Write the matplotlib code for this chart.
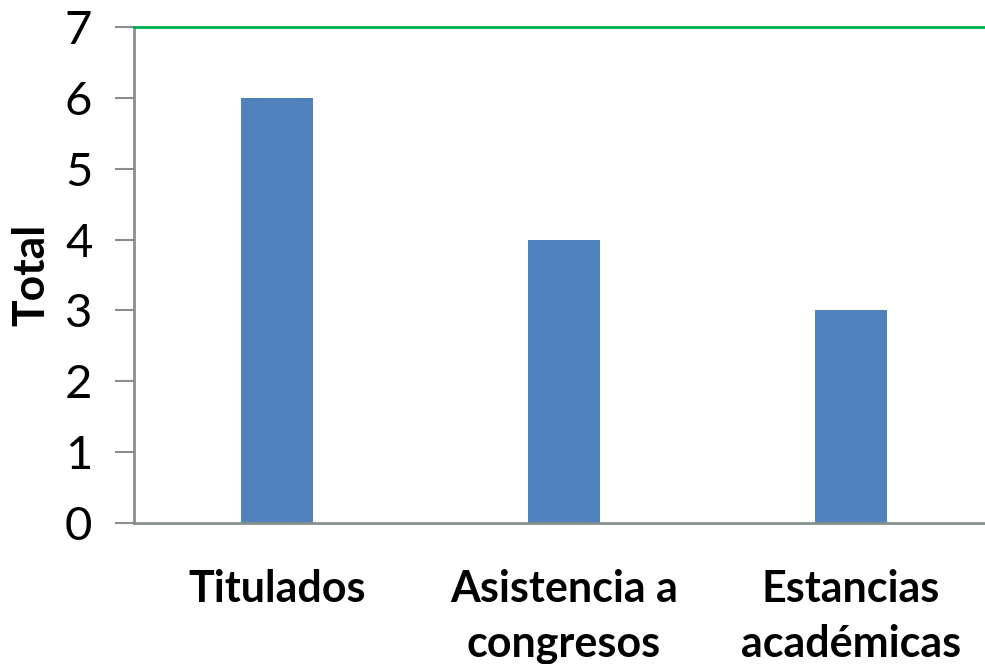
import matplotlib.pyplot as plt
import numpy as np

categories = ['Titulados', 'Asistencia a\ncongresos', 'Estancias\nacadémicas']
totals = [6, 4, 3]
y_ticks = [0, 1, 2, 3, 4, 5, 6, 7]

plt.rcParams['font.family'] = ['Lato', 'DejaVu Sans']

fig = plt.figure(figsize=(9.85, 6.64), dpi=100)
ax = fig.add_axes([134 / 985, 141 / 664, 851 / 985, 496 / 664])

x = np.arange(len(categories))
ax.bar(x, totals, width=0.251, color='#4F81BD', zorder=2)

ax.set_xlim(-0.5, 2.469)
ax.set_ylim(0, 7)
ax.set_yticks(y_ticks)
ax.set_yticklabels([str(t) for t in y_ticks], fontsize=34)
ax.tick_params(axis='y', length=14, width=1.5, color='#8C8C8C', pad=16)

ax.set_xticks(x)
ax.set_xticklabels(categories, fontsize=31, fontweight='bold', linespacing=1.45)
ax.tick_params(axis='x', length=0, pad=33)

ax.axhline(7, color='#00B050', lw=2, zorder=3, clip_on=False)

for side in ['top', 'right']:
    ax.spines[side].set_visible(False)
for side in ['left', 'bottom']:
    ax.spines[side].set_color('#86908C')
    ax.spines[side].set_linewidth(2)

ax.set_ylabel('Total', fontsize=32, fontweight='bold', labelpad=10)

fig.savefig('out.png', dpi=100)
